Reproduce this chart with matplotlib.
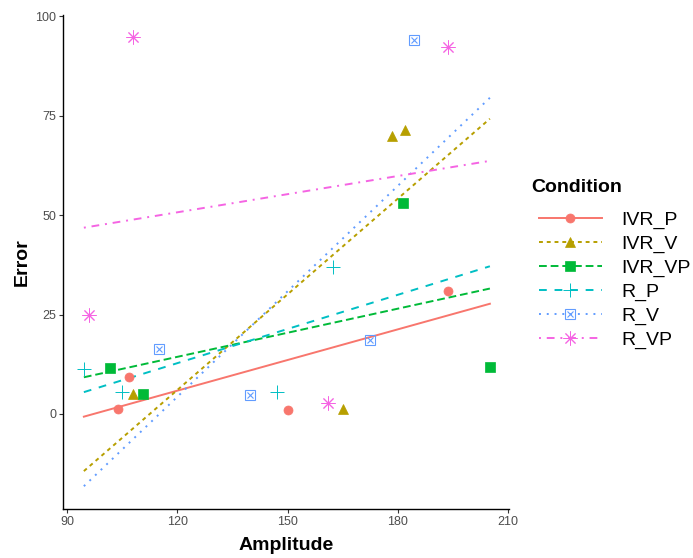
import numpy as np
import matplotlib
matplotlib.use("Agg")
import matplotlib.pyplot as plt
from matplotlib.lines import Line2D
from matplotlib.legend_handler import HandlerTuple

plt.rcParams['font.family'] = ['Liberation Sans', 'DejaVu Sans']

# points, one pair of arrays per condition
ivr_p_x = [104.0, 107.0, 150.0, 193.5]
ivr_p_y = [1.3, 9.3, 1.0, 31.0]
ivr_v_x = [108.0, 178.5, 182.0, 165.0]
ivr_v_y = [5.0, 69.8, 71.3, 1.2]
ivr_vp_x = [101.7, 110.8, 181.4, 205.0]
ivr_vp_y = [11.5, 5.0, 53.1, 11.9]
r_p_x = [94.6, 104.9, 147.0, 162.4]
r_p_y = [11.3, 5.6, 5.6, 36.9]
r_v_x = [114.9, 139.9, 172.4, 184.4]
r_v_y = [16.3, 4.8, 18.6, 94.0]
r_vp_x = [107.9, 96.0, 160.9, 193.5]
r_vp_y = [94.9, 24.8, 2.7, 92.4]

conditions = ["IVR_P", "IVR_V", "IVR_VP", "R_P", "R_V", "R_VP"]
xs = [ivr_p_x, ivr_v_x, ivr_vp_x, r_p_x, r_v_x, r_vp_x]
ys = [ivr_p_y, ivr_v_y, ivr_vp_y, r_p_y, r_v_y, r_vp_y]

colors = ["#F8766D", "#B79F00", "#00BA38", "#00BFC4", "#619CFF", "#F564E3"]
dashes = [None, (2, 2), (4, 2), (4, 4), (1, 3), (1, 3, 4, 3)]
markers = ["o", "^", "s", "+", "s", (8, 2, 0)]
msizes = [6.5, 7, 6.5, 10, 6.5, 10]

lw = 1.4

fig = plt.figure(figsize=(6.93, 5.58), dpi=100)
ax = fig.add_axes([0.0913, 0.0878, 0.6432, 0.885])

xmin = min(min(x) for x in xs)
xmax = max(max(x) for x in xs)
xfit = np.linspace(xmin, xmax, 50)

handles = []
for name, x, y, c, d, m, s in zip(conditions, xs, ys, colors, dashes, markers, msizes):
    slope, icpt = np.polyfit(x, y, 1)
    line, = ax.plot(xfit, slope * xfit + icpt, color=c, lw=lw, zorder=2)
    if d is not None:
        line.set_dashes(d)
    if name == "R_V":
        ax.plot(x, y, ls="none", marker="s", ms=s, mfc="none", mec=c, mew=0.8, zorder=3)
        ax.plot(x, y, ls="none", marker="x", ms=s * 0.7, mec=c, mew=0.8, zorder=3)
        h1 = Line2D([], [], color=c, lw=lw, marker="s", ms=s, mfc="none", mec=c, mew=0.8)
        h1.set_dashes(d)
        h2 = Line2D([], [], ls="none", marker="x", ms=s * 0.7, mec=c, mew=0.8)
        handles.append((h1, h2))
    else:
        mew = 0.7 if name in ("R_P", "R_VP") else 0.5
        ax.plot(x, y, ls="none", marker=m, ms=s, color=c, mec=c, mew=mew, zorder=3)
        h = Line2D([], [], color=c, lw=lw, marker=m, ms=s, mec=c, mew=mew)
        if d is not None:
            h.set_dashes(d)
        handles.append(h)

ax.set_xlim(89.0, 210.2)
ax.set_ylim(-23.9, 100.3)
ax.set_xticks([90, 120, 150, 180, 210])
ax.set_yticks([0, 25, 50, 75, 100])

for side in ["top", "right"]:
    ax.spines[side].set_visible(False)
for side in ["left", "bottom"]:
    ax.spines[side].set_linewidth(1.0)
    ax.spines[side].set_color("black")
ax.tick_params(length=3.0, width=0.8, color="#333333", labelcolor="#4D4D4D",
               labelsize=9, pad=2.2)

ax.set_xlabel("Amplitude", fontsize=14, fontweight="bold", labelpad=6)
ax.set_ylabel("Error", fontsize=14, fontweight="bold", labelpad=3)

fig.text(531 / 693, 1 - 187 / 558, "Condition", fontsize=14, fontweight="bold",
         ha="left", va="center")
leg = fig.legend(handles, conditions, loc="upper left", bbox_to_anchor=(0.753, 0.6535),
                 frameon=False, fontsize=14, handlelength=3.2, handletextpad=1.0,
                 labelspacing=0.32, numpoints=1,
                 handler_map={tuple: HandlerTuple(ndivide=1)})

fig.savefig("out.png", dpi=100)
